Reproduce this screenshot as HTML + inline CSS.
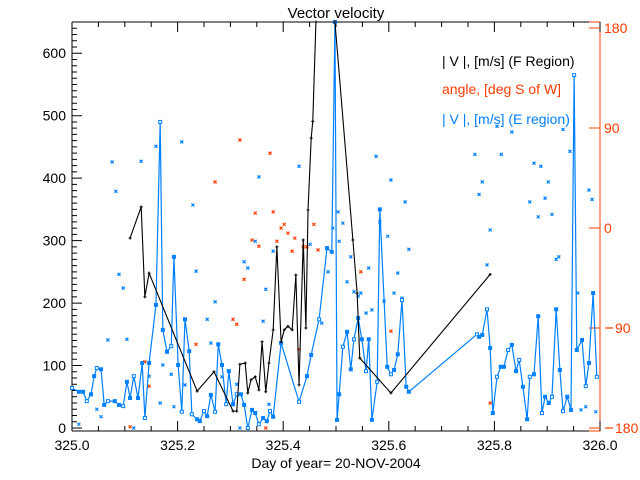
<!DOCTYPE html>
<html><head><meta charset="utf-8"><style>
html,body{margin:0;padding:0;background:#fff;}
svg{display:block;font-family:"Liberation Sans",sans-serif;}
</style></head><body>
<svg id="chart" width="640" height="480" viewBox="0 0 640 480" xmlns="http://www.w3.org/2000/svg">
<text x="336" y="18" font-size="15" text-anchor="middle" fill="#000">Vector velocity</text>
<text x="336" y="468" font-size="14" text-anchor="middle" fill="#000">Day of year= 20-NOV-2004</text>
<text x="442" y="66" font-size="14" fill="#000">| V |, [m/s] (F Region)</text>
<text x="442" y="94" font-size="14" fill="#ff3c00">angle, [deg S of W]</text>
<text x="442" y="124" font-size="14" fill="#0080ff">| V |, [m/s] (E region)</text>
<g id="g"></g>
</svg>
<script>
const xTickLabels=["325.0","325.2","325.4","325.6","325.8","326.0"];
const yTickLabels=["0","100","200","300","400","500","600"];
const rTickLabels=["180","90","0","90","180"];
const fDays=[0.110,0.131,0.138,0.146,0.237,0.269,0.305,0.312,0.318,0.328,0.333,0.339,0.347,0.354,0.360,0.367,0.373,0.381,0.388,0.396,0.402,0.409,0.417,0.424,0.430,0.438,0.443,0.447,0.453,0.456,0.462,0.498,0.532,0.540,0.545,0.604,0.792];
const fVals=[304,354,210,248,59,90,27,27,102,104,56,77,82,61,138,58,104,157,290,138,157,163,157,245,69,301,160,349,464,491,650,650,301,216,112,56,246];
const eDays=[0.000,0.013,0.021,0.028,0.036,0.042,0.047,0.055,0.061,0.068,0.081,0.089,0.097,0.104,0.110,0.117,0.125,0.133,0.138,0.146,0.159,0.167,0.172,0.180,0.188,0.193,0.201,0.208,0.214,0.222,0.227,0.237,0.242,0.250,0.256,0.263,0.271,0.277,0.284,0.292,0.297,0.305,0.312,0.320,0.326,0.333,0.341,0.347,0.354,0.362,0.369,0.375,0.381,0.396,0.430,0.445,0.453,0.468,0.483,0.492,0.498,0.502,0.506,0.513,0.521,0.528,0.534,0.542,0.549,0.557,0.562,0.568,0.578,0.583,0.597,0.604,0.610,0.617,0.625,0.633,0.638,0.767,0.771,0.777,0.786,0.792,0.797,0.805,0.812,0.818,0.826,0.833,0.841,0.847,0.854,0.862,0.867,0.875,0.883,0.890,0.896,0.903,0.909,0.917,0.924,0.930,0.938,0.945,0.951,0.956,0.966,0.973,0.979,0.987,0.994];
const eVals=[64,58,58,43,54,83,96,94,37,43,43,37,35,74,48,83,48,104,16,104,197,490,157,122,131,274,101,26,174,123,22,14,11,27,19,53,26,134,101,38,91,38,54,54,37,0,29,24,6,16,11,27,18,136,42,83,117,174,288,282,650,13,54,130,154,94,142,176,142,91,142,13,74,350,98,86,93,118,205,66,58,150,146,149,190,128,24,82,98,98,125,133,91,109,66,14,82,86,179,24,50,40,50,190,93,27,50,29,565,125,141,67,104,216,82];
const eScatDays=[0.076,0.083,0.131,0.159,0.208,0.229,0.354,0.430,0.576,0.604,0.631,0.763,0.813,0.777,0.771,0.833,0.805,0.930,0.943,0.875,0.888,0.902,0.896,0.867,0.883,0.909,0.979,0.985,0.792,0.583,0.598,0.504,0.513,0.494,0.013,0.089,0.097,0.068,0.104,0.047,0.055,0.117,0.146,0.167,0.172,0.188,0.193,0.214,0.235,0.256,0.271,0.263,0.284,0.312,0.318,0.326,0.333,0.347,0.367,0.362,0.381,0.373,0.451,0.506,0.528,0.485,0.521,0.534,0.547,0.542,0.562,0.557,0.568,0.591,0.610,0.617,0.625,0.638,0.786,0.917,0.922,0.958,0.964,0.973,0.992,0.473];
const eScatVals=[426,379,427,451,458,357,402,419,435,397,362,438,438,394,374,474,483,478,443,424,419,394,368,362,338,342,381,366,317,330,307,346,328,320,6,246,224,141,142,30,18,0,83,40,101,86,34,69,251,174,202,136,82,70,0,266,256,299,222,171,283,38,294,299,274,250,234,218,216,211,256,184,189,203,216,248,208,286,261,270,274,216,29,34,26,168];
const aDays=[0.318,0.271,0.375,0.347,0.381,0.396,0.402,0.409,0.422,0.458,0.110,0.138,0.146,0.235,0.305,0.312,0.326,0.341,0.354,0.388,0.417,0.430,0.438,0.445,0.466,0.367,0.547,0.604,0.792];
const aVals=[461,394,440,344,346,320,326,312,304,326,2,106,67,134,174,166,238,301,291,299,283,126,290,290,285,0,250,155,40];

const L=72,R=600,Y0=428,YT=22,BLK="#000",RED="#ff3c00",BLU="#0080ff";
const X=d=>L+d*(R-L);
const Y=v=>Y0-Math.min(v,650)*(Y0-YT)/650;
const YR=a=>Y0-(a+180)*(Y0-28)/360;
const g=document.getElementById('g');
const NS="http://www.w3.org/2000/svg";
function mk(t,a){const e=document.createElementNS(NS,t);for(const k in a)e.setAttribute(k,a[k]);g.appendChild(e);return e;}
let e;
e=mk('path',{d:`M${L} ${YT}H589M${L} 431H589M${L} ${YT}V431`,stroke:BLK,fill:'none','stroke-width':1});


e=mk('path',{d:`M589 ${YT}H${R}V431H589`,stroke:RED,fill:'none','stroke-width':1});


let td="";
for(let i=0;i<=20;i++){const x=X(i*0.05);const len=(i%4==0)?10:5;td+=`M${x} 431v-${len}M${x} ${YT}v${len}`;}
e=mk('path',{d:td,stroke:BLK,'stroke-width':1});


xTickLabels.forEach((s,i)=>{const t=mk('text',{x:X(i*0.2),y:450,'font-size':14,'text-anchor':'middle',fill:BLK});t.textContent=s;

});
td="";
for(let v=0;v<=640;v+=10){const y=Y(v);const len=(v%100==0)?10:5;td+=`M${L} ${y}h${len}`;}
e=mk('path',{d:td,stroke:BLK,'stroke-width':1});


yTickLabels.forEach((s,i)=>{const t=mk('text',{x:66,y:Y(i*100)+5,'font-size':14,'text-anchor':'end',fill:BLK});t.textContent=s;

});
rTickLabels.forEach((s,i)=>{const a=-180+i*90;const y=YR(a);
const p=mk('path',{d:`M${R} ${y}h-11`,stroke:RED});


if(a<0){const m=mk('path',{d:`M605 ${y}h8`,stroke:RED,'stroke-width':1.2});

}
const t=mk('text',{x:a<0?615:604,y:y+5,'font-size':14,fill:RED});t.textContent=s;

});
function cross(d,v,c,name){const x=X(d),y=Y(v);const p=mk('path',{d:`M${x-1.5} ${y-1.5}l3 3M${x+1.5} ${y-1.5}l-3 3`,stroke:c,'stroke-width':1.2});

}
eScatDays.forEach((d,i)=>cross(d,eScatVals[i],BLU,'e-angle-point'));
aDays.forEach((d,i)=>cross(d,aVals[i],RED,'angle-point'));
e=mk('polyline',{points:eDays.map((d,i)=>X(d)+','+Y(eVals[i])).join(' '),fill:'none',stroke:BLU,'stroke-width':1.2});


eDays.forEach((d,i)=>{const r=mk('rect',{x:X(d)-1.5,y:Y(eVals[i])-1.5,width:3,height:3,fill:(i%3==0)?'#fff':BLU,stroke:BLU,'stroke-width':1});

});
e=mk('polyline',{points:fDays.map((d,i)=>X(d)+','+Y(fVals[i])).join(' '),fill:'none',stroke:BLK,'stroke-width':1.1});


fDays.forEach((d,i)=>{const x=X(d),y=Y(fVals[i]);const p=mk('path',{d:`M${x-1.5} ${y}h3M${x} ${y-1.5}v3`,stroke:BLK});

});
</script>
</body></html>
